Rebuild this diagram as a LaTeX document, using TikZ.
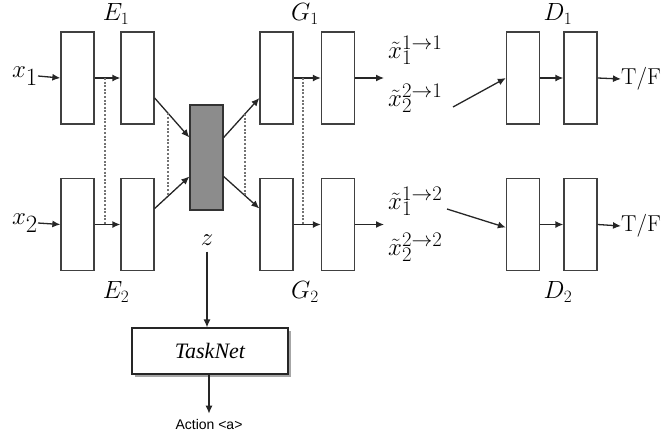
\documentclass[tikz,border=0pt]{standalone}
\usepackage{fontspec}
\newfontfamily\timesit{Liberation Serif}
\newfontfamily\arialf{Liberation Sans}
\usetikzlibrary{arrows.meta,calc,shadows}
\begin{document}
\begin{tikzpicture}[x=1pt,y=-1pt,
  blk/.style={draw=black!75,line width=1.3pt,minimum width=33pt,minimum height=92pt,inner sep=0pt,fill=white},
  zblk/.style={draw=black!80,line width=1.3pt,minimum width=33pt,minimum height=105pt,inner sep=0pt,fill=black!45},
  conn/.style={draw=black!85,line width=1.3pt,-{Latex[length=8pt,width=7pt]}},
  dots/.style={draw=black!55,line width=1.6pt,dash pattern=on 2pt off 1.6pt},
  lab/.style={inner sep=0pt,font=\fontsize{27}{27}\selectfont},
  outlab/.style={inner sep=0pt,anchor=west,font=\fontsize{31}{31}\selectfont}]
\useasboundingbox (0,0) rectangle (662,437);
% encoder
\node[blk] (A) at (77.5,78) {};
\node[blk] (B) at (137.5,78) {};
\node[blk] (C) at (77.5,224.5) {};
\node[blk] (D) at (137.5,224.5) {};
\node[zblk] (z) at (206.5,157.5) {};
% generators
\node[blk] (Ga) at (276.5,78) {};
\node[blk] (Gb) at (338,78) {};
\node[blk] (Gc) at (276.5,224.5) {};
\node[blk] (Gd) at (338,224.5) {};
% discriminators
\node[blk] (Da) at (523,78) {};
\node[blk] (Db) at (580.5,78) {};
\node[blk] (Dc) at (523,224.5) {};
\node[blk] (Dd) at (580.5,224.5) {};
% labels
\node[lab] (E1) at (116,14) {$E_1$};
\node[lab] (E2) at (116,292) {$E_2$};
\node[lab] (G1) at (305,14) {$G_1$};
\node[lab] (G2) at (305,292) {$G_2$};
\node[lab] (D1) at (558,14) {$D_1$};
\node[lab] (D2) at (558,292) {$D_2$};
\node[lab,anchor=east,font=\fontsize{33}{33}\selectfont] (x1) at (38,76) {$x_1$};
\node[lab,anchor=east,font=\fontsize{33}{33}\selectfont] (x2) at (38,223) {$x_2$};
\node[lab] (zl) at (207,240) {$z$};
\node[outlab] (o11) at (388,50) {$\tilde{x}_1^{1\to 1}$};
\node[outlab] (o21) at (388,98) {$\tilde{x}_2^{2\to 1}$};
\node[outlab] (o12) at (388,201) {$\tilde{x}_1^{1\to 2}$};
\node[outlab] (o22) at (388,247) {$\tilde{x}_2^{2\to 2}$};
\node[inner sep=0pt,anchor=west,font=\fontsize{23}{23}\selectfont] (tf1) at (621,79) {T/F};
\node[inner sep=0pt,anchor=west,font=\fontsize{23}{23}\selectfont] (tf2) at (621,226) {T/F};
% tasknet
\node[draw=black!85,line width=1.2pt,fill=white,minimum width=156pt,minimum height=46pt,
  drop shadow={shadow xshift=3pt,shadow yshift=-3pt,fill=black!35,opacity=1},
  font=\timesit\itshape\fontsize{22}{22}\selectfont] (T) at (210,351) {TaskNet};
\node[inner sep=0pt,font=\arialf\fontsize{14}{14}\selectfont] (act) at (209,424) {Action <a>};
\coordinate (o1) at (384,78);
\coordinate (o2) at (384,224.5);
\coordinate (s1) at (453,107);
\coordinate (s2) at (447,209);
% connectors
\draw[conn] (x1.east) -- (A.west);
\draw[conn] (x2.east) -- (C.west);
\draw[conn] (A.east) -- (B.west);
\draw[conn] (C.east) -- (D.west);
\draw[conn] ([yshift=-20pt]B.east) -- ([yshift=20pt]z.west);
\draw[conn] ([yshift=16pt]D.east) -- ([yshift=-19pt]z.west);
\draw[conn] ([yshift=20pt]z.east) -- ([yshift=-20pt]Ga.west);
\draw[conn] ([yshift=-19pt]z.east) -- ([yshift=16pt]Gc.west);
\draw[conn] (Ga.east) -- (Gb.west);
\draw[conn] (Gc.east) -- (Gd.west);
\draw[conn] (Gb.east) -- (o1);
\draw[conn] (Gd.east) -- (o2);
\draw[conn] (s1) -- (Da.west);
\draw[conn] (s2) -- ([yshift=-3pt]Dc.west);
\draw[conn] (Da.east) -- (Db.west);
\draw[conn] (Dc.east) -- (Dd.west);
\draw[conn] (Db.east) -- (tf1.west);
\draw[conn] (Dd.east) -- (tf2.west);
\draw[conn] ([yshift=-6pt]zl.south) -- (T.north -| zl.south);
\draw[conn] (T.south -| act.north) -- ([yshift=5pt]act.north);
% dotted ties
\draw[dots] ($(A.east)!0.4!(B.west)$) -- ($(C.east)!0.4!(D.west)$);
\draw[dots] ($([yshift=-20pt]B.east)!0.39!([yshift=20pt]z.west)$) -- ($([yshift=16pt]D.east)!0.39!([yshift=-19pt]z.west)$);
\draw[dots] ($([yshift=20pt]z.east)!0.59!([yshift=-20pt]Ga.west)$) -- ($([yshift=-19pt]z.east)!0.59!([yshift=16pt]Gc.west)$);
\draw[dots] ($(Ga.east)!0.35!(Gb.west)$) -- ($(Gc.east)!0.35!(Gd.west)$);
\end{tikzpicture}
\end{document}
